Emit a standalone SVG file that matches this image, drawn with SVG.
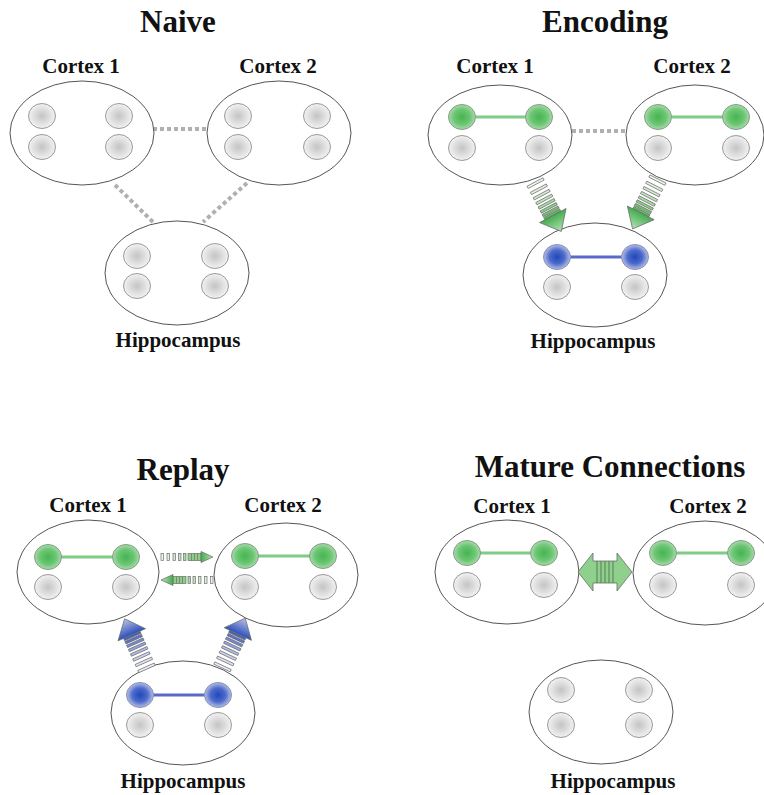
<svg xmlns="http://www.w3.org/2000/svg" xmlns:xlink="http://www.w3.org/1999/xlink" width="764" height="795" viewBox="0 0 764 795">
  <style>
    .title { font-family: "Liberation Serif", "Times New Roman", serif; font-weight: bold; font-size: 31px; fill: #111; text-anchor: middle; }
    .label { font-family: "Liberation Serif", "Times New Roman", serif; font-weight: bold; font-size: 21px; fill: #111; text-anchor: middle; }
    .region { fill: #fff; stroke: #555; stroke-width: 1; }
    .n-gray { fill: url(#gGray); stroke: #9a9a9a; stroke-width: 1; }
    .n-green { fill: url(#gGreen); stroke: #8a9a8a; stroke-width: 1; }
    .n-blue { fill: url(#gBlue); stroke: #8a90b0; stroke-width: 1; }
    .link-green { stroke: #7fcc86; stroke-width: 3; }
    .link-blue { stroke: #5a6ac8; stroke-width: 3; }
    .dotted { stroke: #b0b0b0; stroke-width: 4; stroke-dasharray: 4 3; fill: none; }
    .stripe { stroke: #6e6e6e; stroke-width: 0.7; }
  </style>
  <defs>
    <radialGradient id="gGray" cx="50%" cy="50%" r="50%">
      <stop offset="0" stop-color="#c4c4c4"/>
      <stop offset="1" stop-color="#f2f2f2"/>
    </radialGradient>
    <radialGradient id="gGreen" cx="50%" cy="50%" r="50%">
      <stop offset="0" stop-color="#45b550"/>
      <stop offset="0.6" stop-color="#6cc573"/>
      <stop offset="1" stop-color="#a6dcaa"/>
    </radialGradient>
    <radialGradient id="gBlue" cx="50%" cy="50%" r="50%">
      <stop offset="0" stop-color="#1f49b8"/>
      <stop offset="0.55" stop-color="#4d6acb"/>
      <stop offset="1" stop-color="#b4bfe6"/>
    </radialGradient>
    <linearGradient id="headGreen" x1="0" y1="0" x2="1" y2="0">
      <stop offset="0" stop-color="#44ad50"/>
      <stop offset="1" stop-color="#b6e2b4"/>
    </linearGradient>
    <linearGradient id="headBlue" x1="0" y1="0" x2="1" y2="0">
      <stop offset="0" stop-color="#2f50bc"/>
      <stop offset="1" stop-color="#b9c3e8"/>
    </linearGradient>

    <!-- striped arrow, pointing along +x, tip at x=56 -->
    <g id="stripedGreen">
      <rect class="stripe" x="0" y="-9" width="2.5" height="18" fill="#eef6ec"/>
      <rect class="stripe" x="7" y="-9" width="2.5" height="18" fill="#e2f1df"/>
      <rect class="stripe" x="13" y="-9" width="2.5" height="18" fill="#d3ebcf"/>
      <rect class="stripe" x="18.5" y="-9" width="2.5" height="18" fill="#c1e4bd"/>
      <rect class="stripe" x="23.5" y="-9" width="2.5" height="18" fill="#a8d9a4"/>
      <rect class="stripe" x="28" y="-9" width="2.5" height="18" fill="#8ccd88"/>
      <rect class="stripe" x="32" y="-9" width="2.5" height="18" fill="#72c270"/>
      <rect class="stripe" x="35.5" y="-9" width="2.5" height="18" fill="#5cb85c"/>
      <polygon points="38,-15 56,0 38,15" fill="url(#headGreen)" stroke="#6a6a6a" stroke-width="0.7"/>
    </g>
    <g id="stripedBlue">
      <rect class="stripe" x="0" y="-9" width="2.5" height="18" fill="#eef0f8"/>
      <rect class="stripe" x="6.5" y="-9" width="2.5" height="18" fill="#dfe3f3"/>
      <rect class="stripe" x="12.5" y="-9" width="2.5" height="18" fill="#cbd2ee"/>
      <rect class="stripe" x="18" y="-9" width="2.5" height="18" fill="#b0bce6"/>
      <rect class="stripe" x="23" y="-9" width="2.5" height="18" fill="#93a3dc"/>
      <rect class="stripe" x="27.5" y="-9" width="2.5" height="18" fill="#7589d2"/>
      <rect class="stripe" x="31.5" y="-9" width="2.5" height="18" fill="#5a72c8"/>
      <rect class="stripe" x="35" y="-9" width="2.5" height="18" fill="#4561c0"/>
      <polygon points="37.5,-15 55,0 37.5,15" fill="url(#headBlue)" stroke="#6a6a6a" stroke-width="0.7"/>
    </g>
    <!-- small dashed arrow, pointing along +x, tip at x=52 -->
    <g id="dashedGreen">
      <rect class="stripe" x="0" y="-3.5" width="2.5" height="7" fill="#eef6ec"/>
      <rect class="stripe" x="6" y="-3.5" width="2.5" height="7" fill="#e2f1df"/>
      <rect class="stripe" x="12" y="-3.5" width="2.5" height="7" fill="#d3ebcf"/>
      <rect class="stripe" x="17.5" y="-3.5" width="2.5" height="7" fill="#c1e4bd"/>
      <rect class="stripe" x="22.5" y="-3.5" width="2.5" height="7" fill="#a8d9a4"/>
      <rect class="stripe" x="27" y="-3.5" width="13" height="7" fill="#8ccd88"/>
      <line class="stripe" x1="30.5" y1="-3.5" x2="30.5" y2="3.5"/>
      <line class="stripe" x1="33.5" y1="-3.5" x2="33.5" y2="3.5"/>
      <line class="stripe" x1="36.5" y1="-3.5" x2="36.5" y2="3.5"/>
      <polygon points="40,-5.5 52,0 40,5.5" fill="url(#headGreen)" stroke="#6a6a6a" stroke-width="0.7"/>
    </g>
  </defs>

  <!-- ===== Naive ===== -->
  <g id="naive">
    <text class="title" x="178" y="32">Naive</text>
    <g id="connectors-naive">
      <line class="dotted" x1="153" y1="129" x2="207" y2="129"/>
      <line class="dotted" x1="115" y1="185" x2="153" y2="222"/>
      <line class="dotted" x1="247" y1="183" x2="203" y2="222"/>
    </g>
    <g id="naive-cortex1">
      <text class="label" x="81" y="73">Cortex 1</text>
      <ellipse class="region" cx="82" cy="133" rx="72" ry="52"/>
      <ellipse class="n-gray" cx="42" cy="116" rx="13.5" ry="12.5"/>
      <ellipse class="n-gray" cx="119" cy="116" rx="13.5" ry="12.5"/>
      <ellipse class="n-gray" cx="42" cy="147" rx="13.5" ry="12.5"/>
      <ellipse class="n-gray" cx="119" cy="147" rx="13.5" ry="12.5"/>
    </g>
    <g id="naive-cortex2">
      <text class="label" x="278" y="73">Cortex 2</text>
      <ellipse class="region" cx="279" cy="133" rx="72" ry="52"/>
      <ellipse class="n-gray" cx="238" cy="116" rx="13.5" ry="12.5"/>
      <ellipse class="n-gray" cx="317" cy="116" rx="13.5" ry="12.5"/>
      <ellipse class="n-gray" cx="238" cy="147" rx="13.5" ry="12.5"/>
      <ellipse class="n-gray" cx="317" cy="147" rx="13.5" ry="12.5"/>
    </g>
    <g id="naive-hippocampus">
      <ellipse class="region" cx="177" cy="273" rx="72" ry="52"/>
      <ellipse class="n-gray" cx="137" cy="256" rx="13.5" ry="12.5"/>
      <ellipse class="n-gray" cx="215" cy="256" rx="13.5" ry="12.5"/>
      <ellipse class="n-gray" cx="137" cy="286" rx="13.5" ry="12.5"/>
      <ellipse class="n-gray" cx="215" cy="286" rx="13.5" ry="12.5"/>
      <text class="label" x="178" y="347">Hippocampus</text>
    </g>
  </g>

  <!-- ===== Encoding ===== -->
  <g id="encoding">
    <text class="title" x="605" y="32">Encoding</text>
    <g id="encoding-cortex1">
      <text class="label" x="495" y="73">Cortex 1</text>
      <ellipse class="region" cx="500" cy="135" rx="72" ry="50"/>
      <line class="link-green" x1="462" y1="117" x2="539" y2="117"/>
      <ellipse class="n-green" cx="462" cy="117" rx="13.5" ry="12.5"/>
      <ellipse class="n-green" cx="539" cy="117" rx="13.5" ry="12.5"/>
      <ellipse class="n-gray" cx="462" cy="148" rx="13.5" ry="12.5"/>
      <ellipse class="n-gray" cx="539" cy="148" rx="13.5" ry="12.5"/>
    </g>
    <g id="encoding-cortex2">
      <text class="label" x="692" y="73">Cortex 2</text>
      <ellipse class="region" cx="695" cy="135" rx="69" ry="50"/>
      <line class="link-green" x1="658" y1="117" x2="736" y2="117"/>
      <ellipse class="n-green" cx="658" cy="117" rx="13.5" ry="12.5"/>
      <ellipse class="n-green" cx="736" cy="117" rx="13.5" ry="12.5"/>
      <ellipse class="n-gray" cx="658" cy="148" rx="13.5" ry="12.5"/>
      <ellipse class="n-gray" cx="736" cy="148" rx="13.5" ry="12.5"/>
    </g>
    <g id="encoding-hippocampus">
      <ellipse class="region" cx="595" cy="275" rx="72" ry="52"/>
      <line class="link-blue" x1="557" y1="257" x2="635" y2="257"/>
      <ellipse class="n-blue" cx="557" cy="257" rx="13.5" ry="12.5"/>
      <ellipse class="n-blue" cx="635" cy="257" rx="13.5" ry="12.5"/>
      <ellipse class="n-gray" cx="557" cy="287" rx="13.5" ry="12.5"/>
      <ellipse class="n-gray" cx="635" cy="287" rx="13.5" ry="12.5"/>
      <text class="label" x="593" y="348">Hippocampus</text>
    </g>
    <g id="connectors-encoding">
      <line class="dotted" x1="572" y1="131" x2="626" y2="131"/>
      <use xlink:href="#stripedGreen" transform="translate(535,182) rotate(62)"/>
      <use xlink:href="#stripedGreen" transform="translate(658,179) rotate(117)"/>
    </g>
  </g>

  <!-- ===== Replay ===== -->
  <g id="replay">
    <text class="title" x="183" y="480">Replay</text>
    <g id="replay-cortex1">
      <text class="label" x="88" y="512">Cortex 1</text>
      <ellipse class="region" cx="88" cy="572" rx="71" ry="52"/>
      <line class="link-green" x1="48" y1="557" x2="126" y2="557"/>
      <ellipse class="n-green" cx="48" cy="557" rx="13.5" ry="12.5"/>
      <ellipse class="n-green" cx="126" cy="557" rx="13.5" ry="12.5"/>
      <ellipse class="n-gray" cx="48" cy="587" rx="13.5" ry="12.5"/>
      <ellipse class="n-gray" cx="126" cy="587" rx="13.5" ry="12.5"/>
    </g>
    <g id="replay-cortex2">
      <text class="label" x="283" y="512">Cortex 2</text>
      <ellipse class="region" cx="286" cy="575" rx="72" ry="52"/>
      <line class="link-green" x1="245" y1="556" x2="323" y2="556"/>
      <ellipse class="n-green" cx="245" cy="556" rx="13.5" ry="12.5"/>
      <ellipse class="n-green" cx="323" cy="556" rx="13.5" ry="12.5"/>
      <ellipse class="n-gray" cx="245" cy="587" rx="13.5" ry="12.5"/>
      <ellipse class="n-gray" cx="323" cy="587" rx="13.5" ry="12.5"/>
    </g>
    <g id="replay-hippocampus">
      <ellipse class="region" cx="183" cy="713" rx="72" ry="52"/>
      <line class="link-blue" x1="140" y1="695" x2="218" y2="695"/>
      <ellipse class="n-blue" cx="140" cy="695" rx="13.5" ry="12.5"/>
      <ellipse class="n-blue" cx="218" cy="695" rx="13.5" ry="12.5"/>
      <ellipse class="n-gray" cx="140" cy="725" rx="13.5" ry="12.5"/>
      <ellipse class="n-gray" cx="218" cy="725" rx="13.5" ry="12.5"/>
      <text class="label" x="183" y="788">Hippocampus</text>
    </g>
    <g id="connectors-replay">
      <use xlink:href="#dashedGreen" transform="translate(161,557)"/>
      <use xlink:href="#dashedGreen" transform="translate(213,580) rotate(180)"/>
      <use xlink:href="#stripedBlue" transform="translate(147,669) rotate(-114)"/>
      <use xlink:href="#stripedBlue" transform="translate(222,668) rotate(-65)"/>
    </g>
  </g>

  <!-- ===== Mature Connections ===== -->
  <g id="mature">
    <text class="title" x="610" y="477">Mature Connections</text>
    <g id="mature-cortex1">
      <text class="label" x="512" y="513">Cortex 1</text>
      <ellipse class="region" cx="507" cy="572" rx="72" ry="52"/>
      <line class="link-green" x1="467" y1="553" x2="544" y2="553"/>
      <ellipse class="n-green" cx="467" cy="553" rx="13.5" ry="12.5"/>
      <ellipse class="n-green" cx="544" cy="553" rx="13.5" ry="12.5"/>
      <ellipse class="n-gray" cx="467" cy="585" rx="13.5" ry="12.5"/>
      <ellipse class="n-gray" cx="544" cy="585" rx="13.5" ry="12.5"/>
    </g>
    <g id="mature-cortex2">
      <text class="label" x="708" y="513">Cortex 2</text>
      <ellipse class="region" cx="705" cy="573" rx="72" ry="52"/>
      <line class="link-green" x1="663" y1="553" x2="741" y2="553"/>
      <ellipse class="n-green" cx="663" cy="553" rx="13.5" ry="12.5"/>
      <ellipse class="n-green" cx="741" cy="553" rx="13.5" ry="12.5"/>
      <ellipse class="n-gray" cx="663" cy="585" rx="13.5" ry="12.5"/>
      <ellipse class="n-gray" cx="741" cy="585" rx="13.5" ry="12.5"/>
    </g>
    <g id="mature-hippocampus">
      <ellipse class="region" cx="601" cy="712" rx="72" ry="52"/>
      <ellipse class="n-gray" cx="561" cy="690" rx="13.5" ry="12.5"/>
      <ellipse class="n-gray" cx="639" cy="690" rx="13.5" ry="12.5"/>
      <ellipse class="n-gray" cx="561" cy="725" rx="13.5" ry="12.5"/>
      <ellipse class="n-gray" cx="639" cy="725" rx="13.5" ry="12.5"/>
      <text class="label" x="613" y="788">Hippocampus</text>
    </g>
    <g id="connectors-mature">
      <!-- double-headed striped arrow -->
      <polygon points="578,572 593,553 593,561 617,561 617,553 632,572 617,591 617,583 593,583 593,591"
               fill="#8fd08c" stroke="#6a6a6a" stroke-width="0.8"/>
      <g stroke="#4a6a4a" stroke-width="0.8">
        <line x1="597" y1="561" x2="597" y2="583"/>
        <line x1="601" y1="561" x2="601" y2="583"/>
        <line x1="605" y1="561" x2="605" y2="583"/>
        <line x1="609" y1="561" x2="609" y2="583"/>
        <line x1="613" y1="561" x2="613" y2="583"/>
      </g>
    </g>
  </g>
</svg>
